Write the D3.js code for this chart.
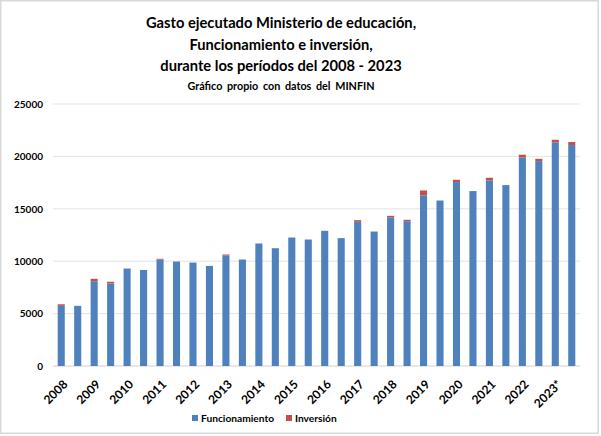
<!DOCTYPE html>
<html>
<head>
<meta charset="utf-8">
<script src="https://cdn.jsdelivr.net/npm/d3@7"></script>
<style>
  body { margin: 0; background: #fff; }
  svg { display: block; font-family: Lato, "Liberation Sans", sans-serif; }
</style>
</head>
<body>
<svg width="601" height="436"></svg>
<script>
// Two periods per year, label only on the first of each pair
const periodLabels = ["2008", "", "2009", "", "2010", "", "2011", "", "2012", "", "2013", "", "2014", "", "2015", "",
                      "2016", "", "2017", "", "2018", "", "2019", "", "2020", "", "2021", "", "2022", "", "2023*", ""];

// Funcionamiento (millones)
const funcionamiento = [5740, 5740, 8090, 7870, 9300, 9160, 10150, 9970, 9870, 9550, 10540, 10160, 11690, 11240, 12260, 12070,
                        12900, 12200, 13760, 12830, 14170, 13820, 16270, 15790, 17550, 16690, 17700, 17260, 19900, 19550, 21340, 21080];

// Inversión (millones)
const inversion = [150, 0, 230, 170, 0, 0, 80, 0, 0, 0, 100, 0, 0, 0, 0, 0,
                   0, 0, 160, 0, 160, 130, 480, 0, 220, 0, 260, 0, 260, 220, 250, 290];

const yTicks = [0, 5000, 10000, 15000, 20000, 25000];

const titleLines = ["Gasto ejecutado Ministerio de educación,",
                    "Funcionamiento e inversión,",
                    "durante los períodos del 2008 - 2023"];
const subtitle = "Gráfico propio con datos del MINFIN";

const seriesNames = ["Funcionamiento", "Inversión"];
const colors = ["#4f81bd", "#c0504d"];

const svg = d3.select("svg");
const margin = {top: 104, right: 21, bottom: 70, left: 53};
const width = 601 - margin.left - margin.right;
const height = 436 - margin.top - margin.bottom;

// chart border
svg.append("rect")
   .attr("x", 0.75).attr("y", 0.75)
   .attr("width", 597.5).attr("height", 432.5)
   .attr("fill", "none")
   .attr("stroke", "#d9d9d9")
   .attr("stroke-width", 1.5);

// titles
svg.selectAll("text.title")
   .data(titleLines)
   .enter()
   .append("text")
   .attr("class", "title")
   .attr("x", 281)
   .attr("y", function(d, i){ return 28 + i * 21.5; })
   .attr("text-anchor", "middle")
   .attr("font-size", 14.7)
   .attr("font-weight", "bold")
   .attr("fill", "#000")
   .text(function(d){ return d; });

svg.append("text")
   .attr("x", 281)
   .attr("y", 90)
   .attr("text-anchor", "middle")
   .attr("font-size", 10.8)
   .attr("font-weight", "bold")
   .attr("word-spacing", 2)
   .text(subtitle);

const g = svg.append("g").attr("transform", `translate(${margin.left},${margin.top})`);

const x = d3.scaleBand()
            .domain(d3.range(periodLabels.length))
            .range([0, width])
            .paddingInner(0.57)
            .paddingOuter(0.285);

const y = d3.scaleLinear().domain([0, 25000]).range([height, 0]);

// gridlines
g.selectAll("line.grid")
 .data(yTicks)
 .enter()
 .append("line")
 .attr("class", "grid")
 .attr("x1", 0).attr("x2", width)
 .attr("y1", function(d){ return y(d); })
 .attr("y2", function(d){ return y(d); })
 .attr("stroke", function(d){ return d === 0 ? "#d0d0d0" : "#e3e3e3"; })
 .attr("stroke-width", 1);

// y axis labels
const yAxis = g.append("g")
               .call(d3.axisLeft(y).tickValues(yTicks).tickSize(0).tickPadding(10).tickFormat(d3.format("d")));
yAxis.select(".domain").remove();
yAxis.selectAll("text")
     .attr("font-size", 10)
     .attr("font-weight", "bold")
     .attr("fill", "#000")
     .attr("font-family", "Lato, sans-serif");

// stacked bars
const rows = periodLabels.map(function(d, i){
    return {idx: i, Funcionamiento: funcionamiento[i], "Inversión": inversion[i]};
});
const stacked = d3.stack().keys(seriesNames)(rows);

g.selectAll("g.series")
 .data(stacked)
 .enter()
 .append("g")
 .attr("class", "series")
 .attr("fill", function(d, i){ return colors[i]; })
 .selectAll("rect")
 .data(function(d){ return d; })
 .enter()
 .append("rect")
 .attr("x", function(d){ return x(d.data.idx); })
 .attr("y", function(d){ return y(d[1]); })
 .attr("width", x.bandwidth())
 .attr("height", function(d){ return y(d[0]) - y(d[1]); });

// x axis labels
const xAxis = g.append("g")
               .attr("transform", `translate(0,${height})`)
               .call(d3.axisBottom(x).tickSize(0).tickFormat(function(i){ return periodLabels[i]; }));
xAxis.select(".domain").remove();
xAxis.selectAll("text")
     .attr("font-size", 12)
     .attr("font-weight", "bold")
     .attr("fill", "#000")
     .attr("font-family", "Lato, sans-serif")
     .attr("text-anchor", "end")
     .attr("dy", 0)
     .attr("transform", "translate(5,17) rotate(-45)");

// legend
const legend = svg.append("g").attr("transform", "translate(192,420)");
const legX = [0, 94];
seriesNames.forEach(function(name, i){
    legend.append("rect")
          .attr("x", legX[i]).attr("y", -5)
          .attr("width", 6).attr("height", 6)
          .attr("fill", colors[i]);
    legend.append("text")
          .attr("x", legX[i] + 9)
          .attr("y", 2)
          .attr("font-size", 10.2)
          .attr("font-weight", "bold")
          .text(name);
});
</script>
</body>
</html>
